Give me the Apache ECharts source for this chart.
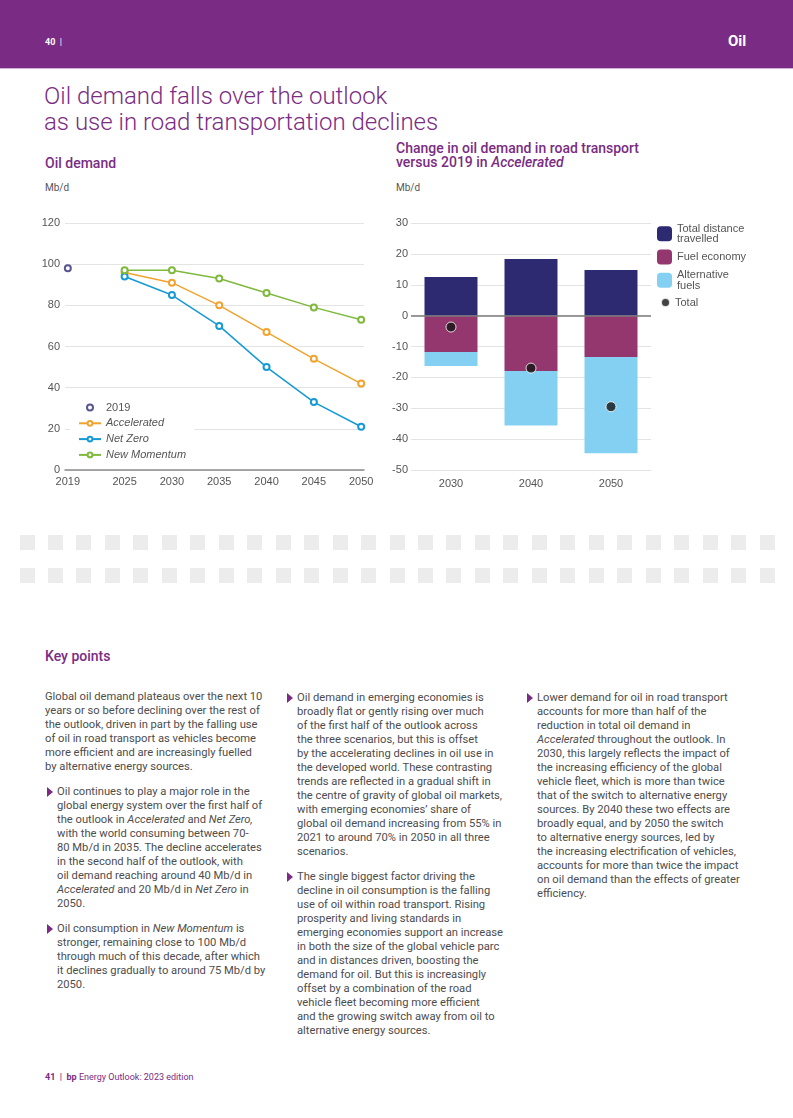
<!DOCTYPE html>
<html><head><meta charset="utf-8">
<script src="https://cdn.jsdelivr.net/npm/echarts@6/dist/echarts.min.js"></script>
<style>
html,body{margin:0;padding:0}
body{width:793px;height:1118px;position:relative;background:#fff;font-family:Roboto,"Liberation Sans",sans-serif;overflow:hidden;color:#4a4a4a}
.abs{position:absolute;white-space:nowrap}
#band{position:absolute;left:0;top:0;width:793px;height:68px;background:#7a2c84;border-bottom:1px solid #cfb2d3}
.purple{color:#7a2c84}
#chart{position:absolute;left:0;top:0;width:793px;height:520px}
.para{position:absolute;font-size:11.2px;line-height:14px;color:#4d4d4d;white-space:nowrap}
.tri{position:absolute;width:0;height:0;border-top:5px solid transparent;border-bottom:5px solid transparent;border-left:6px solid #7a2c84}
.blk{position:absolute;width:15px;height:15px;background:#ececec}
</style>
</head><body>
<div id="band"></div>
<div class="abs" style="left:45px;top:35px;font-size:9px;font-weight:700;color:#fff;line-height:14px">40&nbsp;&nbsp;<span style="font-weight:400">|</span></div>
<div class="abs" style="left:728px;top:32px;font-size:15px;font-weight:700;color:#fff;line-height:18px">Oil</div>
<div class="abs purple" style="left:44px;top:84px;font-size:24px;font-weight:300;line-height:25.5px">Oil demand falls over the outlook<br>as use in road transportation declines</div>
<div class="abs purple" style="left:45px;top:155px;font-size:14px;font-weight:500;line-height:16px">Oil demand</div>
<div class="abs" style="left:45px;top:182px;font-size:10px;color:#555;line-height:12px">Mb/d</div>
<div class="abs purple" style="left:396px;top:142px;font-size:14px;font-weight:500;line-height:13.5px">Change in oil demand in road transport<br>versus 2019 in <i>Accelerated</i></div>
<div class="abs" style="left:396px;top:182px;font-size:10px;color:#555;line-height:12px">Mb/d</div>
<div id="chart"></div>
<div id="blocks"></div>
<div class="abs purple" style="left:45px;top:648px;font-size:14px;font-weight:500;line-height:16px">Key points</div>
<div id="text"></div>
<div class="abs purple" style="left:45px;top:1071px;font-size:9px;line-height:12px"><b>41</b>&nbsp;&nbsp;<b>|</b>&nbsp;&nbsp;<b>bp</b> Energy Outlook: 2023 edition</div>
<script>
// ---- data ----
const xTicks = [2019, 2025, 2030, 2035, 2040, 2045, 2050];
const scenarioYears = [2025, 2030, 2035, 2040, 2045, 2050];
const demand2019 = 98;
const accelerated = [96, 91, 80, 67, 54, 42];
const netZero = [94, 85, 70, 50, 33, 21];
const newMomentum = [97, 97, 93, 86, 79, 73];
const barYears = ['2030', '2040', '2050'];
const totalDistance = [12.5, 18.3, 14.8];
const fuelEconomy = [-11.8, -17.9, -13.4];
const altFuels = [-4.5, -17.7, -31.2];
const totalChange = [-3.7, -17.0, -29.5];

// ---- decorative blocks ----
(function(){
  const b = document.getElementById('blocks');
  let h = '';
  [535, 568].forEach(function(t){
    for (let i = 0; i < 27; i++) {
      h += '<div class="blk" style="left:' + (19.5 + i * 28.46).toFixed(1) + 'px;top:' + t + 'px"></div>';
    }
  });
  b.innerHTML = h;
})();

// ---- text ----
const col1Intro = [
 'Global oil demand plateaus over the next 10',
 'years or so before declining over the rest of',
 'the outlook, driven in part by the falling use',
 'of oil in road transport as vehicles become',
 'more efficient and are increasingly fuelled',
 'by alternative energy sources.'];
const col1B1 = [
 'Oil continues to play a major role in the',
 'global energy system over the first half of',
 'the outlook in <i>Accelerated</i> and <i>Net Zero,</i>',
 'with the world consuming between 70-',
 '80 Mb/d in 2035. The decline accelerates',
 'in the second half of the outlook, with',
 'oil demand reaching around 40 Mb/d in',
 '<i>Accelerated</i> and 20 Mb/d in <i>Net Zero</i> in',
 '2050.'];
const col1B2 = [
 'Oil consumption in <i>New Momentum</i> is',
 'stronger, remaining close to 100 Mb/d',
 'through much of this decade, after which',
 'it declines gradually to around 75 Mb/d by',
 '2050.'];
const col2B1 = [
 'Oil demand in emerging economies is',
 'broadly flat or gently rising over much',
 'of the first half of the outlook across',
 'the three scenarios, but this is offset',
 'by the accelerating declines in oil use in',
 'the developed world. These contrasting',
 'trends are reflected in a gradual shift in',
 'the centre of gravity of global oil markets,',
 'with emerging economies\u2019 share of',
 'global oil demand increasing from 55% in',
 '2021 to around 70% in 2050 in all three',
 'scenarios.'];
const col2B2 = [
 'The single biggest factor driving the',
 'decline in oil consumption is the falling',
 'use of oil within road transport. Rising',
 'prosperity and living standards in',
 'emerging economies support an increase',
 'in both the size of the global vehicle parc',
 'and in distances driven, boosting the',
 'demand for oil. But this is increasingly',
 'offset by a combination of the road',
 'vehicle fleet becoming more efficient',
 'and the growing switch away from oil to',
 'alternative energy sources.'];
const col3B1 = [
 'Lower demand for oil in road transport',
 'accounts for more than half of the',
 'reduction in total oil demand in',
 '<i>Accelerated</i> throughout the outlook. In',
 '2030, this largely reflects the impact of',
 'the increasing efficiency of the global',
 'vehicle fleet, which is more than twice',
 'that of the switch to alternative energy',
 'sources. By 2040 these two effects are',
 'broadly equal, and by 2050 the switch',
 'to alternative energy sources, led by',
 'the increasing electrification of vehicles,',
 'accounts for more than twice the impact',
 'on oil demand than the effects of greater',
 'efficiency.'];
(function(){
  const t = document.getElementById('text');
  let h = '';
  function block(lines, x, yc, bullet) {
    h += '<div class="para" style="left:' + x + 'px;top:' + (yc - 7) + 'px">' + lines.join('<br>') + '</div>';
    if (bullet) h += '<div class="tri" style="left:' + (x - 10) + 'px;top:' + (yc - 5) + 'px"></div>';
  }
  block(col1Intro, 45, 697, false);
  block(col1B1, 57, 792, true);
  block(col1B2, 57, 929, true);
  block(col2B1, 297, 698, true);
  block(col2B2, 297, 877, true);
  block(col3B1, 537, 698, true);
  t.innerHTML = h;
})();

// ---- chart ----
const chart = echarts.init(document.getElementById('chart'), null, {renderer: 'canvas'});
const grey = '#555';
const pair = (xs, ys) => xs.map((x, i) => [x, ys[i]]);
const legendNames = {'Total distance travelled': 'Total distance\ntravelled', 'Alternative fuels': 'Alternative\nfuels'};
chart.setOption({
  animation: false,
  grid: [
    {left: 65, top: 223, width: 299, height: 247},
    {left: 411, top: 223, width: 240, height: 247}
  ],
  xAxis: [
    {type: 'value', gridIndex: 0, min: 2018.7, max: 2050.3,
     axisLine: {lineStyle: {color: '#8a8a8a', width: 1.5}},
     axisTick: {show: false}, splitLine: {show: false},
     axisLabel: {customValues: xTicks, color: grey, fontSize: 11, margin: 6, formatter: v => String(v)}},
    {type: 'category', gridIndex: 1, data: barYears,
     axisLine: {show: false}, axisTick: {show: false},
     axisLabel: {color: grey, fontSize: 11, margin: 8}}
  ],
  yAxis: [
    {type: 'value', gridIndex: 0, min: 0, max: 120, interval: 20,
     axisLine: {show: false}, axisTick: {show: false},
     splitLine: {lineStyle: {color: '#e4e4e4', width: 1}},
     axisLabel: {color: grey, fontSize: 11, margin: 5}},
    {type: 'value', gridIndex: 1, min: -50, max: 30, interval: 10,
     axisLine: {show: false}, axisTick: {show: false},
     splitLine: {lineStyle: {color: '#e4e4e4', width: 1}},
     axisLabel: {color: grey, fontSize: 11, margin: 3}}
  ],
  legend: [
    {orient: 'vertical', left: 70, top: 399, padding: [3, 8, 3, 8], backgroundColor: '#fff',
     itemWidth: 22, itemHeight: 6, itemGap: 4.8,
     data: ['2019', 'Accelerated', 'Net Zero', 'New Momentum'],
     formatter: n => n === '2019' ? n : '{i|' + n + '}',
     textStyle: {color: grey, fontSize: 11, lineHeight: 9, rich: {i: {fontStyle: 'italic', color: grey, fontSize: 11}}}},
    {orient: 'vertical', left: 655, top: 221, padding: [2, 2, 2, 2],
     itemWidth: 15, itemHeight: 15, itemGap: 5,
     data: ['Total distance travelled', 'Fuel economy', 'Alternative fuels'],
     formatter: n => legendNames[n] || n,
     textStyle: {color: grey, fontSize: 11, lineHeight: 10.5}},
    {orient: 'vertical', left: 658, top: 295, padding: [2, 2, 2, 2],
     itemWidth: 9, itemHeight: 9, data: ['Total'],
     textStyle: {color: grey, fontSize: 11}}
  ],
  series: [
    {name: '2019', type: 'scatter', xAxisIndex: 0, yAxisIndex: 0,
     data: [[2019, demand2019]], symbol: 'emptyCircle', symbolSize: 6,
     itemStyle: {color: '#2f2a76', borderWidth: 1.5}},
    {name: 'Accelerated', type: 'line', xAxisIndex: 0, yAxisIndex: 0,
     data: pair(scenarioYears, accelerated), symbol: 'emptyCircle', symbolSize: 6,
     lineStyle: {width: 1.5}, itemStyle: {color: '#f0a32f', borderWidth: 1.2}},
    {name: 'Net Zero', type: 'line', xAxisIndex: 0, yAxisIndex: 0,
     data: pair(scenarioYears, netZero), symbol: 'emptyCircle', symbolSize: 6,
     lineStyle: {width: 1.5}, itemStyle: {color: '#159ad5', borderWidth: 1.2}},
    {name: 'New Momentum', type: 'line', xAxisIndex: 0, yAxisIndex: 0,
     data: pair(scenarioYears, newMomentum), symbol: 'emptyCircle', symbolSize: 6,
     lineStyle: {width: 1.5}, itemStyle: {color: '#7fb93d', borderWidth: 1.2}},
    {name: 'Total distance travelled', type: 'bar', xAxisIndex: 1, yAxisIndex: 1, stack: 'a',
     barWidth: 53, data: totalDistance, itemStyle: {color: '#2e2a72'},
     markLine: {silent: true, symbol: ['none', 'none'], label: {show: false},
       lineStyle: {color: '#7a7a7a', width: 1.5, type: 'solid'}, data: [{yAxis: 0}], z: 5}},
    {name: 'Fuel economy', type: 'bar', xAxisIndex: 1, yAxisIndex: 1, stack: 'a',
     barWidth: 53, data: fuelEconomy, itemStyle: {color: '#94376f'}},
    {name: 'Alternative fuels', type: 'bar', xAxisIndex: 1, yAxisIndex: 1, stack: 'a',
     barWidth: 53, data: altFuels, itemStyle: {color: '#84d0f2'}},
    {name: 'Total', type: 'scatter', xAxisIndex: 1, yAxisIndex: 1, z: 10,
     data: totalChange, symbol: 'circle', symbolSize: 10,
     itemStyle: {color: '#141414', borderColor: '#fff', borderWidth: 1}}
  ]
});
</script>
</body></html>
